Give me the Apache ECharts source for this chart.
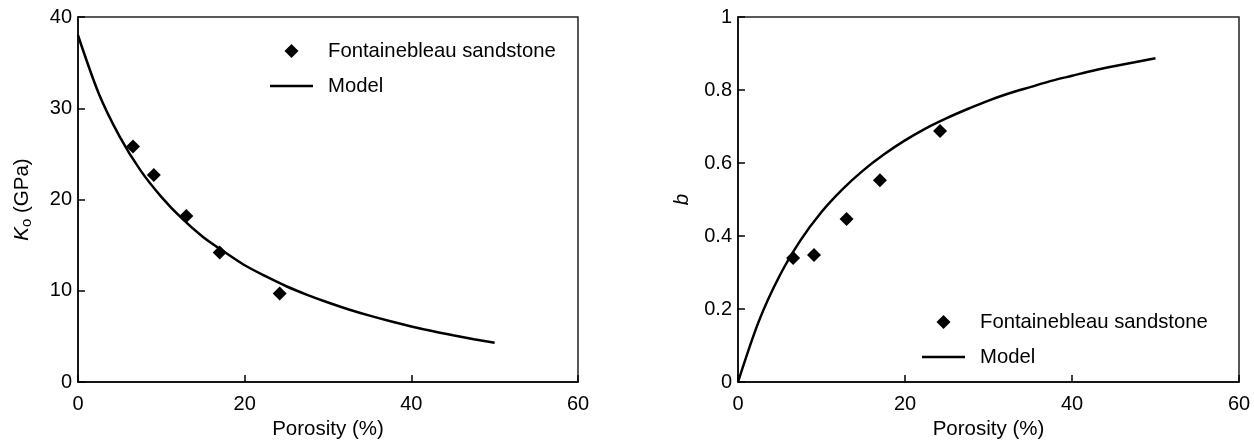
<!DOCTYPE html>
<html>
<head>
<meta charset="utf-8">
<script src="https://cdn.jsdelivr.net/npm/echarts@6/dist/echarts.min.js"></script>
<style>
  html, body { margin: 0; padding: 0; background: #fff; }
  #chart { width: 1254px; height: 445px; }
</style>
</head>
<body>
<div id="chart"></div>
<script>
// Measured samples (porosity in %)
const samplePorosity = [6.6, 9.1, 13.0, 17.0, 24.2];
const sampleK0 = [25.8, 22.7, 18.2, 14.2, 9.7];        // dry bulk modulus, GPa
const sampleB = [0.340, 0.348, 0.447, 0.553, 0.688];    // b parameter

// Model curves
const modelPorosity = [0, 2.5, 5, 7.5, 10, 12.5, 15, 17.5, 20, 22.5, 25, 27.5, 30, 32.5, 35, 37.5, 40, 42.5, 45, 47.5, 50];
const modelK0 = [38.0, 31.6, 26.9, 23.2, 20.3, 17.9, 15.9, 14.3, 12.8, 11.6, 10.5, 9.56, 8.72, 7.96, 7.28, 6.66, 6.10, 5.59, 5.13, 4.70, 4.30];
const modelB = [0, 0.167, 0.292, 0.389, 0.466, 0.528, 0.580, 0.624, 0.662, 0.695, 0.723, 0.748, 0.771, 0.791, 0.808, 0.825, 0.839, 0.853, 0.865, 0.876, 0.887];

const xTicks = { min: 0, max: 60, interval: 20 };
const kTicks = { min: 0, max: 40, interval: 10 };
const bTicks = { min: 0, max: 1, interval: 0.2 };

const SAMPLE_NAME = 'Fontainebleau sandstone';
const MODEL_NAME = 'Model';

const FONT = "'Liberation Sans', Arial, Helvetica, sans-serif";
const INK = '#000';
const TICK_FONT = 20;
const NAME_FONT = 20.5;

const pair = (xs, ys) => xs.map((x, i) => [x, ys[i]]);

function xAxisFor(gridIndex) {
  return {
    type: 'value', gridIndex,
    min: xTicks.min, max: xTicks.max, interval: xTicks.interval,
    name: 'Porosity (%)', nameLocation: 'middle', nameGap: 25,
    nameTextStyle: { fontFamily: FONT, fontSize: NAME_FONT, color: INK },
    axisLine: { lineStyle: { color: INK, width: 1.5 } },
    axisTick: { inside: true, length: 7, lineStyle: { color: INK, width: 1.5 } },
    axisLabel: { fontFamily: FONT, fontSize: TICK_FONT, color: INK, margin: 12 },
    splitLine: { show: false }
  };
}

function yAxisFor(gridIndex, ticks, name, nameStyle, gap) {
  return {
    type: 'value', gridIndex,
    min: ticks.min, max: ticks.max, interval: ticks.interval,
    name, nameLocation: 'middle', nameGap: gap, nameRotate: 90,
    nameTextStyle: Object.assign({ fontFamily: FONT, fontSize: NAME_FONT, color: INK }, nameStyle),
    axisLine: { lineStyle: { color: INK, width: 1.5 } },
    axisTick: { inside: true, length: 7, lineStyle: { color: INK, width: 1.5 } },
    axisLabel: { fontFamily: FONT, fontSize: TICK_FONT, color: INK, margin: 6 },
    splitLine: { show: false }
  };
}

const diamondIcon = 'path://M0,-1 L1,0 L0,1 L-1,0 Z';
const lineIcon = 'path://M0,0 L40,0 L40,2.4 L0,2.4 Z';

function legendAt(left, top) {
  return {
    left, top, orient: 'vertical',
    itemWidth: 43, itemHeight: 14, itemGap: 15,
    selectedMode: false,
    textStyle: { fontFamily: FONT, fontSize: 20.3, color: INK, padding: [0, 0, 0, 10] },
    data: [
      { name: SAMPLE_NAME, icon: diamondIcon, itemStyle: { color: INK, opacity: 1 } },
      { name: MODEL_NAME, icon: lineIcon, itemStyle: { color: INK, opacity: 1 } }
    ]
  };
}

function seriesFor(idx, sampleY, modelY) {
  return [
    {
      name: MODEL_NAME, type: 'line', xAxisIndex: idx, yAxisIndex: idx,
      data: pair(modelPorosity, modelY), smooth: 0.3,
      showSymbol: false, symbol: 'none',
      lineStyle: { color: INK, width: 2.5 }, itemStyle: { color: INK },
      z: 2
    },
    {
      name: SAMPLE_NAME, type: 'scatter', xAxisIndex: idx, yAxisIndex: idx,
      data: pair(samplePorosity, sampleY),
      symbol: 'diamond', symbolSize: 14,
      itemStyle: { color: INK, opacity: 1 },
      z: 3
    }
  ];
}

const chart = echarts.init(document.getElementById('chart'), null, { renderer: 'canvas' });
chart.setOption({
  animation: false,
  backgroundColor: '#fff',
  grid: [
    { left: 78, top: 17, width: 500, height: 367, show: true, borderColor: '#222', borderWidth: 1.5, backgroundColor: 'transparent' },
    { left: 738, top: 17, width: 501, height: 367, show: true, borderColor: '#222', borderWidth: 1.5, backgroundColor: 'transparent' }
  ],
  xAxis: [xAxisFor(0), xAxisFor(1)],
  yAxis: [
    yAxisFor(0, kTicks, '{k|K}{o|o} (GPa)', {
      rich: {
        k: { fontFamily: FONT, fontSize: NAME_FONT, fontStyle: 'italic', color: INK, lineHeight: 24 },
        o: { fontFamily: FONT, fontSize: 15, color: INK, verticalAlign: 'bottom', lineHeight: 22 }
      }
    }, 44),
    yAxisFor(1, bTicks, 'b', { fontStyle: 'italic' }, 46)
  ],
  legend: [legendAt(265, 36), legendAt(917, 307)],
  series: [].concat(seriesFor(0, sampleK0, modelK0), seriesFor(1, sampleB, modelB))
});
</script>
</body>
</html>
